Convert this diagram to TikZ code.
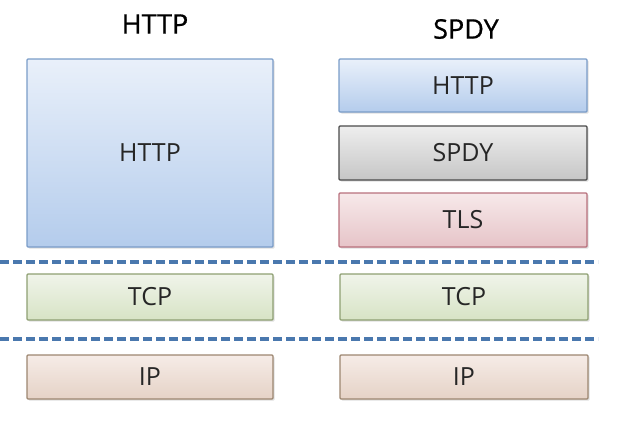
\documentclass[tikz,border=0pt]{standalone}
\usepackage{fontspec}
\setmainfont{Open Sans}
\newfontfamily\titlefont[FakeBold=0.7]{Open Sans}
\usepackage{tikz}
\usetikzlibrary{positioning, shadows}
\usepackage{xcolor}
\definecolor{httpTop}{HTML}{E9F0FA}
\definecolor{httpBot}{HTML}{B4CCEC}
\definecolor{httpLine}{HTML}{7A9CC8}
\definecolor{spdyTop}{HTML}{EEEEEE}
\definecolor{spdyBot}{HTML}{C6C6C6}
\definecolor{spdyLine}{HTML}{4A4A4A}
\definecolor{tlsTop}{HTML}{F7E9EA}
\definecolor{tlsBot}{HTML}{E6C4C8}
\definecolor{tlsLine}{HTML}{B8707C}
\definecolor{tcpTop}{HTML}{F0F4EA}
\definecolor{tcpBot}{HTML}{D7E3C5}
\definecolor{tcpLine}{HTML}{8E9F72}
\definecolor{ipTop}{HTML}{F6ECE7}
\definecolor{ipBot}{HTML}{E5D2C6}
\definecolor{ipLine}{HTML}{9C8670}
\definecolor{sepBlue}{HTML}{4A78AE}

\tikzset{
  layer/.style={draw, line width=1.2pt, rounded corners=1pt, inner sep=0pt,
    font=\fontsize{25}{28}\selectfont, text=black!85,
    drop shadow={opacity=0.25, shadow xshift=1.5pt, shadow yshift=-1.5pt}},
  httpbox/.style={layer, draw=httpLine, top color=httpTop, bottom color=httpBot},
  spdybox/.style={layer, draw=spdyLine, top color=spdyTop, bottom color=spdyBot},
  tlsbox/.style={layer, draw=tlsLine, top color=tlsTop, bottom color=tlsBot},
  tcpbox/.style={layer, draw=tcpLine, top color=tcpTop, bottom color=tcpBot},
  ipbox/.style={layer, draw=ipLine, top color=ipTop, bottom color=ipBot},
  title/.style={font=\titlefont\fontsize{27}{30}\selectfont, text=black},
  sep/.style={draw=sepBlue, line width=3.4pt, dash pattern=on 9pt off 4pt}
}

\begin{document}
\begin{tikzpicture}[x=1pt, y=-1pt]
    \useasboundingbox (0,0) rectangle (620,424);

    % Titles
    \node[title] (tHttp) at (155,24) {HTTP};
    \node[title] (tSpdy) at (466,29) {SPDY};

    % Left stack
    \node[httpbox, minimum width=246pt, minimum height=188pt] (httpL) at (150,153) {HTTP};
    \node[tcpbox, minimum width=246pt, minimum height=46pt] (tcpL) at (150,297) {TCP};
    \node[ipbox, minimum width=246pt, minimum height=44pt] (ipL) at (150,377) {IP};

    % Right stack
    \node[httpbox, minimum width=248pt, minimum height=53pt] (httpR) at (463,85.5) {HTTP};
    \node[spdybox, minimum width=248pt, minimum height=54pt] (spdyR) at (463,153) {SPDY};
    \node[tlsbox, minimum width=248pt, minimum height=54pt] (tlsR) at (463,220) {TLS};
    \node[tcpbox, minimum width=248pt, minimum height=46pt] (tcpR) at (464,297) {TCP};
    \node[ipbox, minimum width=248pt, minimum height=44pt] (ipR) at (464,377) {IP};

    % Separators
    \coordinate (s1a) at (0,262);
    \coordinate (s1b) at (598,262);
    \coordinate (s2a) at (0,339);
    \coordinate (s2b) at (598,339);
    \draw[sep] (s1a) -- (s1b);
    \draw[sep] (s2a) -- (s2b);
\end{tikzpicture}
\end{document}
